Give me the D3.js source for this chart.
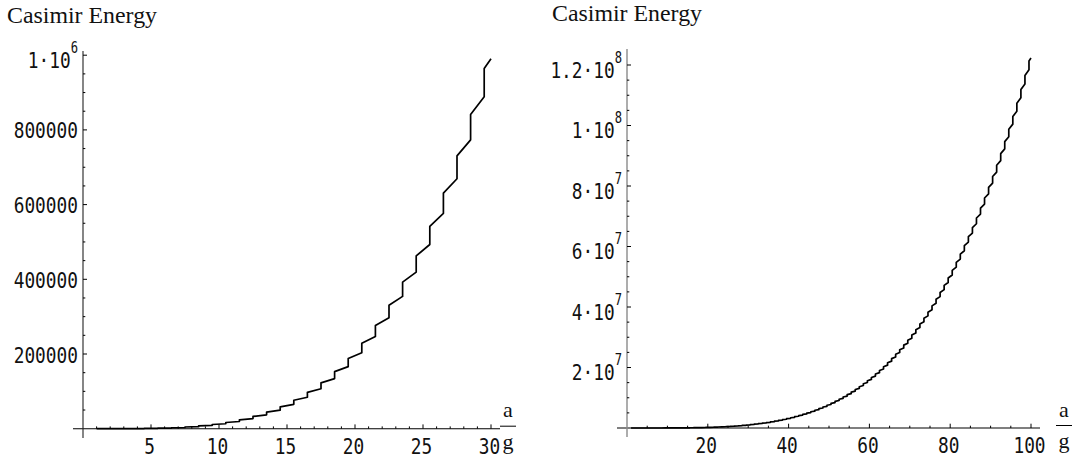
<!DOCTYPE html>
<html><head><meta charset="utf-8">
<script src="https://cdn.jsdelivr.net/npm/d3@7"></script>
<style>
body{margin:0;background:#fff;}
svg{display:block;}
.tick-label{font-family:"DejaVu Sans Mono","Liberation Mono",monospace;font-size:22px;fill:#111;}
.title{font-family:"Liberation Serif","DejaVu Serif",serif;font-size:24px;fill:#111;}
.frac{font-family:"Liberation Serif","DejaVu Serif",serif;font-size:22px;fill:#111;}
</style></head>
<body>
<svg id="chart" width="1073" height="460"></svg>
<script>
// ---------- LEFT PANEL DATA (a/g from 1 to 30) ----------
const leftEdges = [1,1.5,2.5,3.5,4.5,5.5,6.5,7.5,8.5,9.5,10.5,11.5,12.5,13.5,14.5,15.5,16.5,17.5,18.5,19.5,20.5,21.5,22.5,23.5,24.5,25.5,26.5,27.5,28.5,29.5,30];
// energy at start / end of each step segment
const leftStart = [1.2,12,74,253,646,1379,2608,4518,7323,11266,16622,23691,32806,44329,58645,76184,97386,122724,152721,187911,228859,276153,330404,392331,462542,541780,630778,730375,841304,964378];
const leftEnd   = [2.3,28,127,378,890,1802,3279,5520,8749,13223,19226,27072,37103,49699,65251,84199,106998,134138,166141,203566,246983,296981,354225,419355,493117,576207,669321,773298,888966,990630];
const leftXTicks = [5,10,15,20,25,30];
const leftYTicks = [200000,400000,600000,800000,1000000];
const leftYLabels = [["200000",""],["400000",""],["600000",""],["800000",""],["1\u00b710","6"]];

// ---------- RIGHT PANEL DATA (a/g from 1 to 100), values in units of 10^6 ----------
const rightEdges = [1,1.5,2.5,3.5,4.5,5.5,6.5,7.5,8.5,9.5,10.5,11.5,12.5,13.5,14.5,15.5,16.5,17.5,18.5,19.5,
20.5,21.5,22.5,23.5,24.5,25.5,26.5,27.5,28.5,29.5,30.5,31.5,32.5,33.5,34.5,35.5,36.5,37.5,38.5,39.5,
40.5,41.5,42.5,43.5,44.5,45.5,46.5,47.5,48.5,49.5,50.5,51.5,52.5,53.5,54.5,55.5,56.5,57.5,58.5,59.5,
60.5,61.5,62.5,63.5,64.5,65.5,66.5,67.5,68.5,69.5,70.5,71.5,72.5,73.5,74.5,75.5,76.5,77.5,78.5,79.5,
80.5,81.5,82.5,83.5,84.5,85.5,86.5,87.5,88.5,89.5,90.5,91.5,92.5,93.5,94.5,95.5,96.5,97.5,98.5,99.5,100];
const rightStartM = [
0,0,0,0,0.001,0.001,0.003,0.005,0.007,0.011,
0.017,0.024,0.033,0.044,0.059,0.076,0.097,0.123,0.153,0.188,
0.229,0.276,0.330,0.392,0.463,0.542,0.631,0.730,0.841,0.964,
1.100,1.250,1.415,1.596,1.793,2.009,2.243,2.496,2.771,3.068,
3.389,3.733,4.103,4.501,4.926,5.381,5.866,6.384,6.935,7.522,
8.144,8.805,9.504,10.245,11.028,11.856,12.729,13.649,14.619,15.639,
16.711,17.838,19.021,20.262,21.563,22.925,24.351,25.842,27.401,29.029,
30.728,32.502,34.350,36.277,38.284,40.373,42.546,44.805,47.154,49.593,
52.126,54.755,57.482,60.310,63.241,66.277,69.421,72.676,76.044,79.528,
83.130,86.853,90.700,94.673,98.775,103.010,107.378,111.885,116.532,121.322];
const rightEndM = [
0,0,0,0,0.001,0.002,0.003,0.006,0.009,0.013,
0.019,0.027,0.037,0.050,0.065,0.084,0.107,0.134,0.166,0.204,
0.247,0.297,0.354,0.419,0.493,0.576,0.669,0.773,0.889,1.017,
1.159,1.315,1.486,1.673,1.877,2.100,2.342,2.604,2.887,3.194,
3.523,3.878,4.259,4.667,5.104,5.571,6.070,6.600,7.165,7.766,
8.404,9.080,9.796,10.553,11.354,12.199,13.091,14.031,15.021,16.061,
17.156,18.305,19.511,20.775,22.100,23.487,24.939,26.457,28.043,29.700,
31.429,33.232,35.112,37.070,39.109,41.232,43.439,45.734,48.118,50.595,
53.166,55.834,58.601,61.470,64.442,67.521,70.710,74.010,77.424,80.954,
84.605,88.377,92.274,96.298,100.453,104.741,109.164,113.727,118.430,122.300];
const rightXTicks = [20,40,60,80,100];
const rightYTicks = [2e7,4e7,6e7,8e7,1e8,1.2e8];
const rightYLabels = [["2\u00b710","7"],["4\u00b710","7"],["6\u00b710","7"],["8\u00b710","7"],["1\u00b710","8"],["1.2\u00b710","8"]];

const titleText = "Casimir Energy";
const SX = 0.81; // horizontal condensing of tick labels

const svg = d3.select("#chart");

function label(g, x, y, anchor){
  return g.append("text").attr("class","tick-label")
    .attr("transform",`translate(${x},${y}) scale(${SX},1)`)
    .attr("text-anchor",anchor);
}

function panel(cfg){
  const g = svg.append("g");
  const x = d3.scaleLinear().domain(cfg.xDomain).range(cfg.xRange);
  const y = d3.scaleLinear().domain(cfg.yDomain).range(cfg.yRange);
  const x0 = x(0), y0 = y(0);

  // axes lines
  g.append("line").attr("x1",cfg.xAxisExt[0]).attr("x2",cfg.xAxisExt[1])
    .attr("y1",y0).attr("y2",y0).attr("stroke","#000").attr("stroke-width",1.1);
  g.append("line").attr("x1",x0).attr("x2",x0)
    .attr("y1",cfg.yAxisExt[0]).attr("y2",cfg.yAxisExt[1])
    .attr("stroke",cfg.yAxisColor).attr("stroke-width",cfg.yAxisWidth);

  // x ticks (upward)
  const xMinor = d3.range(cfg.xMinorStep, cfg.xDomain[1]+1e-9, cfg.xMinorStep)
      .filter(v => !cfg.xTicks.some(t => Math.abs(t-v)<1e-9));
  g.selectAll(null).data(xMinor).enter().append("line")
    .attr("x1",d=>x(d)).attr("x2",d=>x(d)).attr("y1",y0).attr("y2",y0-2.3)
    .attr("stroke","#000").attr("stroke-width",1);
  g.selectAll(null).data(cfg.xTicks).enter().append("line")
    .attr("x1",d=>x(d)).attr("x2",d=>x(d)).attr("y1",y0).attr("y2",y0-4.3)
    .attr("stroke","#000").attr("stroke-width",1);
  cfg.xTicks.forEach(t => label(g, x(t)-1.5, y0+25, "middle").text(t));

  // y ticks (to the right)
  const yMinor = d3.range(cfg.yMinorStep, cfg.yDomain[1]+1, cfg.yMinorStep)
      .filter(v => !cfg.yTicks.some(t => Math.abs(t-v)<1));
  g.selectAll(null).data(yMinor).enter().append("line")
    .attr("x1",x0).attr("x2",x0+2.3).attr("y1",d=>y(d)).attr("y2",d=>y(d))
    .attr("stroke","#000").attr("stroke-width",1);
  g.selectAll(null).data(cfg.yTicks).enter().append("line")
    .attr("x1",x0).attr("x2",x0+4).attr("y1",d=>y(d)).attr("y2",d=>y(d))
    .attr("stroke","#000").attr("stroke-width",1);
  cfg.yTicks.forEach((t,i)=>{
    const lab = cfg.yLabels[i];
    const sup = lab[1] !== "";
    const tx = label(g, x0-5, y(t)+(sup?12.5:8.5), "end");
    tx.append("tspan").text(lab[0]);
    if(sup) tx.append("tspan").attr("dy",-15).style("font-size","15px").text(lab[1]);
  });

  // a/g fraction label
  const fx = cfg.fracX;
  g.append("text").attr("class","frac").attr("x",fx).attr("y",y0-11.5)
    .attr("text-anchor","middle").text("a");
  g.append("line").attr("x1",fx-8).attr("x2",fx+8).attr("y1",y0-2.5).attr("y2",y0-2.5)
    .attr("stroke","#000").attr("stroke-width",1);
  g.append("text").attr("class","frac").attr("x",fx).attr("y",y0+20)
    .attr("text-anchor","middle").text("g");

  // title
  g.append("text").attr("class","title").attr("x",cfg.titlePos[0]).attr("y",cfg.titlePos[1])
    .attr("textLength",150).attr("lengthAdjust","spacingAndGlyphs").text(titleText);

  // curve: step segments
  const pts = [];
  cfg.start.forEach((v,i)=>{
    pts.push([cfg.edges[i], v*cfg.unit]);
    pts.push([cfg.edges[i+1], cfg.end[i]*cfg.unit]);
  });
  const line = d3.line().x(d=>x(d[0])).y(d=>y(d[1]));
  g.append("path").attr("d",line(pts)).attr("fill","none")
    .attr("stroke","#000").attr("stroke-width",1.7).attr("stroke-linejoin","round");
}

panel({
  xDomain:[0,30], xRange:[83,491], yDomain:[0,1e6], yRange:[428.7,55.2],
  xAxisExt:[73,500], yAxisExt:[51,438], yAxisColor:"#222", yAxisWidth:1.1,
  xTicks:leftXTicks, xMinorStep:1, yTicks:leftYTicks, yMinorStep:50000, yLabels:leftYLabels,
  edges:leftEdges, start:leftStart, end:leftEnd, unit:1,
  fracX:508, titlePos:[7,23]
});
panel({
  xDomain:[0,100], xRange:[627,1031], yDomain:[0,1.2e8], yRange:[428,65],
  xAxisExt:[617,1040], yAxisExt:[49,437], yAxisColor:"#8a8a8a", yAxisWidth:1.4,
  xTicks:rightXTicks, xMinorStep:5, yTicks:rightYTicks, yMinorStep:5e6, yLabels:rightYLabels,
  edges:rightEdges, start:rightStartM, end:rightEndM, unit:1e6,
  fracX:1064, titlePos:[552,21]
});
</script>
</body></html>
